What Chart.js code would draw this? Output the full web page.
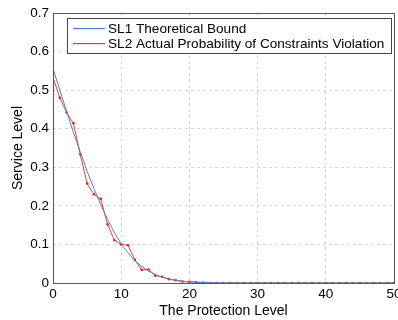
<!DOCTYPE html>
<html>
<head>
<meta charset="utf-8">
<script src="https://cdn.jsdelivr.net/npm/chart.js@4.4.1/dist/chart.umd.min.js"></script>
<style>
  html, body { margin: 0; padding: 0; background: #fff; overflow: hidden; }
  #wrap { width: 398px; height: 320px; }
</style>
</head>
<body>
<div id="wrap"><canvas id="slChart"></canvas></div>
<script>
// protection level 0..50
const protectionLevels = [
  0, 1, 2, 3, 4, 5, 6, 7, 8, 9, 10, 11, 12, 13, 14, 15, 16, 17, 18, 19, 20,
  21, 22, 23, 24, 25, 26, 27, 28, 29, 30, 31, 32, 33, 34, 35, 36, 37, 38, 39, 40,
  41, 42, 43, 44, 45, 46, 47, 48, 49, 50
];

// SL1 theoretical bound
const sl1Bound = [
  0.556, 0.500, 0.445, 0.390, 0.340, 0.290, 0.245, 0.203, 0.165, 0.131, 0.101,
  0.078, 0.058, 0.043, 0.031, 0.022, 0.015, 0.010, 0.007, 0.0045, 0.003,
  0.002, 0.001, 0.0006, 0.0003, 0.0002, 0.0001, 0, 0, 0, 0,
  0, 0, 0, 0, 0, 0, 0, 0, 0, 0,
  0, 0, 0, 0, 0, 0, 0, 0, 0, 0
];

// SL2 actual probability of constraints violation
const sl2Actual = [
  0.533, 0.480, 0.442, 0.414, 0.333, 0.258, 0.230, 0.218, 0.152, 0.111, 0.100,
  0.098, 0.060, 0.034, 0.035, 0.019, 0.016, 0.010, 0.007, 0.004, 0.003,
  0.002, 0.001, 0, 0, 0, 0, 0, 0, 0, 0,
  0, 0, 0, 0, 0, 0, 0, 0, 0, 0,
  0, 0, 0, 0, 0, 0, 0, 0, 0, 0
];

const legendLabels = ['SL1 Theoretical Bound', 'SL2 Actual Probability of Constraints Violation'];
const seriesColors = ['#4f80d0', '#f03a3a'];

const FONT = 'Arial, "Liberation Sans", sans-serif';

// frame round the plot area + matlab style legend box
const framePlugin = {
  id: 'frame',
  afterDraw(chart) {
    const ctx = chart.ctx;
    const a = chart.chartArea;
    ctx.save();
    ctx.strokeStyle = '#555';
    ctx.lineWidth = 1;
    ctx.strokeRect(Math.round(a.left) + 0.5, Math.round(a.top) + 0.5,
      Math.round(a.right - a.left), Math.round(a.bottom - a.top));

    // legend
    const bx = 67.5, by = 18.5, bw = 324, bh = 35;
    ctx.fillStyle = '#fff';
    ctx.fillRect(bx, by, bw, bh);
    ctx.strokeStyle = '#444';
    ctx.strokeRect(bx, by, bw, bh);
    ctx.font = '13.6px ' + FONT;
    ctx.textBaseline = 'middle';
    legendLabels.forEach((txt, i) => {
      const yy = 28 + i * 15;
      ctx.fillStyle = '#000';
      ctx.fillText(txt, 108, yy + 1.5);
    });
    // sample lines drawn after the text
    seriesColors.forEach((col, i) => {
      ctx.fillStyle = col;
      ctx.fillRect(73, 28 + i * 15, 32, 1.2);
    });
    ctx.restore();
  }
};

new Chart(document.getElementById('slChart').getContext('2d'), {
  type: 'line',
  data: {
    datasets: [
      {
        label: legendLabels[0],
        data: protectionLevels.map((x, i) => ({ x: x, y: sl1Bound[i] })),
        borderColor: seriesColors[0],
        borderWidth: 1,
        pointRadius: 0,
        tension: 0,
        fill: false
      },
      {
        label: legendLabels[1],
        data: protectionLevels.map((x, i) => ({ x: x, y: sl2Actual[i] })),
        borderColor: seriesColors[1],
        backgroundColor: '#e82020',
        borderWidth: 1,
        pointRadius: 1.3,
        pointBorderWidth: 0,
        tension: 0,
        fill: false
      }
    ]
  },
  options: {
    responsive: true,
    maintainAspectRatio: false,
    animation: false,
    layout: { padding: { top: 13, right: 3, left: 0, bottom: 0 } },
    plugins: {
      legend: { display: false },
      tooltip: { enabled: false }
    },
    scales: {
      x: {
        type: 'linear',
        min: 0,
        max: 50,
        afterFit(scale) { scale.height = 37; scale.paddingRight = 0; scale.paddingLeft = 0; },
        ticks: { stepSize: 10, color: '#000', font: { family: FONT, size: 13.5 }, padding: 3, maxRotation: 0 },
        grid: { color: '#d8d8d8', drawTicks: false },
        border: { display: false, dash: [3, 3] },
        title: { display: true, text: 'The Protection Level', color: '#000', font: { family: FONT, size: 14 }, padding: { top: 0, bottom: 0 } }
      },
      y: {
        min: 0,
        max: 0.7,
        afterFit(scale) { scale.width = 53; },
        ticks: { stepSize: 0.1, color: '#000', font: { family: FONT, size: 13.5 }, padding: 4,
          callback: v => (Math.round(v * 10) / 10).toString() },
        grid: { color: '#d8d8d8', drawTicks: false },
        border: { display: false, dash: [3, 3] },
        title: { display: true, text: 'Service Level', color: '#000', font: { family: FONT, size: 14 }, padding: { top: 10, bottom: 0 } }
      }
    }
  },
  plugins: [framePlugin]
});
</script>
</body>
</html>
